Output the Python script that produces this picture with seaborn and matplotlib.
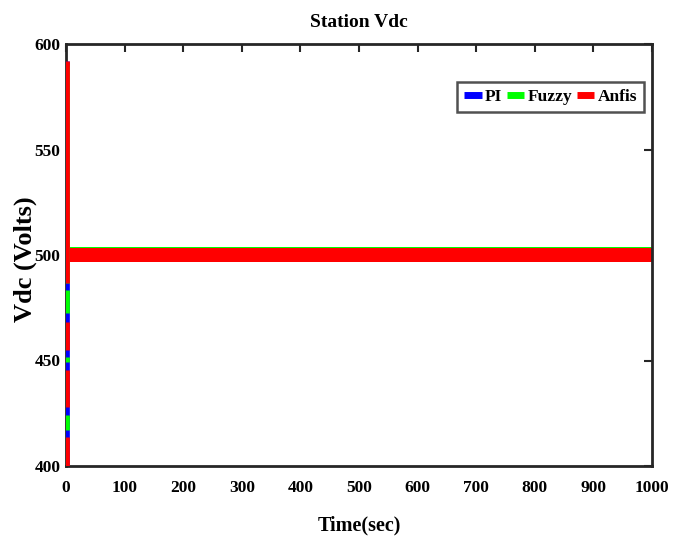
import matplotlib
matplotlib.use("Agg")
import matplotlib.pyplot as plt
import seaborn as sns
import pandas as pd
from matplotlib.lines import Line2D

# ---------------- data ----------------
series = ["PI", "Fuzzy", "Anfis"]
colors = ["#0000ff", "#00ff00", "#ff0000"]

x_ticks = [0, 100, 200, 300, 400, 500, 600, 700, 800, 900, 1000]
y_ticks = [400, 450, 500, 550, 600]

# time of start-up transient (s)
spike_time = 1.7
# visible transient segments (Vdc low, Vdc high) for each controller
pi_spike = [(400.0, 592.0)]
fuzzy_spike = [(417.1, 424.2), (449.4, 451.8), (472.3, 483.3), (486.7, 590.0)]
anfis_spike = [(400.0, 413.7), (427.9, 445.5), (455.0, 468.2), (486.7, 592.0)]

# steady-state ripple band (envelope) after the transient
band_time = [1.7, 1000.0]
band_low = [497.0, 497.0, 496.9]
band_high = [503.6, 503.7, 503.5]

# ---------------- build table ----------------
rows = []
for name, segs in zip(series, [pi_spike, fuzzy_spike, anfis_spike]):
    for k, (lo, hi) in enumerate(segs):
        rows.append({"time": spike_time, "Vdc": lo, "series": name, "seg": f"{name}{k}"})
        rows.append({"time": spike_time, "Vdc": hi, "series": name, "seg": f"{name}{k}"})
df = pd.DataFrame(rows)

# ---------------- style ----------------
sns.set_theme(style="white")
plt.rcParams["font.family"] = ["Liberation Serif", "DejaVu Serif"]
plt.rcParams["font.weight"] = "bold"
plt.rcParams["axes.labelweight"] = "bold"
plt.rcParams["axes.titleweight"] = "bold"
plt.rcParams["text.color"] = "black"
plt.rcParams["axes.labelcolor"] = "black"

fig = plt.figure(figsize=(6.84, 5.45), dpi=100)
ax = fig.add_axes([66 / 684, 1 - 466 / 545, (652 - 66) / 684, (466 - 44) / 545])

# bands
for name, c, lo, hi in zip(series, colors, band_low, band_high):
    ax.fill_between(band_time, [lo, lo], [hi, hi], color=c, linewidth=0, zorder=2)

# transient
sns.lineplot(data=df, x="time", y="Vdc", hue="series", units="seg", estimator=None,
             palette=dict(zip(series, colors)), hue_order=series, linewidth=3.4,
             legend=False, ax=ax, zorder=3, solid_capstyle="butt")

ax.set_xlim(0, 1000)
ax.set_ylim(400, 600)
ax.set_xticks(x_ticks)
ax.set_yticks(y_ticks)
ax.tick_params(direction="in", length=6, width=1.5, top=True, right=True,
               labelsize=12.5, colors="#262626", labelcolor="black")
ax.tick_params(axis="x", pad=10)
ax.tick_params(axis="y", pad=4)
for lab in ax.get_xticklabels() + ax.get_yticklabels():
    lab.set_fontweight("bold")
for sp in ax.spines.values():
    sp.set_visible(True)
    sp.set_linewidth(2.0)
    sp.set_color("#262626")

ax.set_title("Station Vdc", fontsize=14, fontweight="bold", pad=12, color="black")
ax.set_xlabel("Time(sec)", fontsize=14.5, fontweight="bold", labelpad=14, color="black")
ax.set_ylabel("Vdc (Volts)", fontsize=19, fontweight="bold", color="black")
ax.yaxis.set_label_coords(-0.05, 0.49)

handles = [Line2D([0], [0], color=c, linewidth=5, solid_capstyle="butt") for c in colors]
leg = ax.legend(handles, series, loc="upper right", ncol=3,
                handlelength=1.0, handletextpad=0.2, columnspacing=0.25,
                frameon=True, fancybox=False, borderpad=0.4, borderaxespad=0,
                bbox_to_anchor=(0.986, 0.910), prop={"weight": "bold", "size": 12.5})
leg.get_frame().set_edgecolor("#262626")
leg.get_frame().set_linewidth(1.8)
for t in leg.get_texts():
    t.set_color("black")

fig.savefig("out.png", dpi=100)
